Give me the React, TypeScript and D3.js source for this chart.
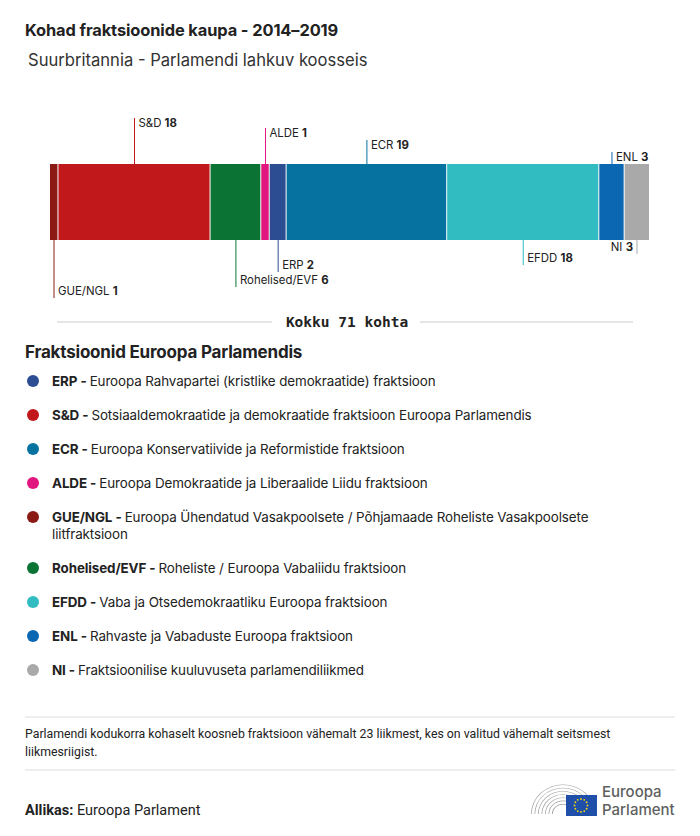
import React from 'react';
import * as d3 from 'd3';

// Seats per group, in bar order
const groups = ['GUE/NGL', 'S&D', 'Rohelised/EVF', 'ALDE', 'ERP', 'ECR', 'EFDD', 'ENL', 'NI'];
const seats = [1, 18, 6, 1, 2, 19, 18, 3, 3];
const groupColors = ['#8b1a15', '#c1191b', '#0b7333', '#e2167f', '#2d4d92', '#0572a0', '#30bcc0', '#0b67b2', '#a9a9a9'];

const legendKeys = ['ERP', 'S&D', 'ECR', 'ALDE', 'GUE/NGL', 'Rohelised/EVF', 'EFDD', 'ENL', 'NI'];
const legendTexts = [
  ['Euroopa Rahvapartei (kristlike demokraatide) fraktsioon'],
  ['Sotsiaaldemokraatide ja demokraatide fraktsioon Euroopa Parlamendis'],
  ['Euroopa Konservatiivide ja Reformistide fraktsioon'],
  ['Euroopa Demokraatide ja Liberaalide Liidu fraktsioon'],
  ['Euroopa Ühendatud Vasakpoolsete / Põhjamaade Roheliste Vasakpoolsete', 'liitfraktsioon'],
  ['Roheliste / Euroopa Vabaliidu fraktsioon'],
  ['Vaba ja Otsedemokraatliku Euroopa fraktsioon'],
  ['Rahvaste ja Vabaduste Euroopa fraktsioon'],
  ['Fraktsioonilise kuuluvuseta parlamendiliikmed'],
];

// label leader: side and length (px) for each group, in bar order
const leaderSide = ['below', 'above', 'below', 'above', 'below', 'above', 'below', 'above', 'below'];
const leaderLen = [58, 46, 47, 36, 32, 24, 25, 12, 14];

const W = 700;
const H = 836;
const barTop = 164;
const barH = 76;
const sans = 'Inter, "Open Sans", sans-serif';
const noteFont = 'Roboto, sans-serif';

export default function App() {
  const total = d3.sum(seats);
  const x = d3.scaleLinear().domain([0, total]).range([50, 650]);
  const starts = d3.cumsum([0, ...seats]).slice(0, seats.length);

  const legendY = d3.scaleLinear().domain([0, 1]).range([381, 415]);
  // extra offset after the wrapped item
  const legendRow = (i: number) => legendY(i) + (i > 4 ? 17 : 0);

  const stars = d3.range(12).map(i => {
    const a = (i / 12) * Math.PI * 2;
    return [581 + Math.cos(a) * 6.5, 805.5 + Math.sin(a) * 6.5];
  });

  return (
    <svg width={W} height={H} style={{ position: 'absolute', left: 0, top: 0, background: '#fff' }}>
      <text x={25} y={36} fontFamily={sans} fontWeight={700} fontSize={16.4} fill="#222" letterSpacing={-0.1}>
        Kohad fraktsioonide kaupa - 2014–2019
      </text>
      <text x={28} y={66} fontFamily={sans} fontSize={16.6} fill="#333">
        Suurbritannia - Parlamendi lahkuv koosseis
      </text>

      {seats.map((s, i) => {
        const x0 = x(starts[i]);
        const x1 = x(starts[i] + s);
        const cx = i === 0 ? x0 + 4 : i === seats.length - 1 ? x1 - 13 : (x0 + x1) / 2;
        const above = leaderSide[i] === 'above';
        const yEnd = above ? barTop - leaderLen[i] : barTop + barH + leaderLen[i];
        const isNI = groups[i] === 'NI';
        const ly = above ? yEnd + 9 : yEnd - 3;
        return (
          <g key={groups[i]}>
            <rect x={x0} y={barTop} width={Math.max(0, x1 - x0 - 1)} height={barH} fill={groupColors[i]} />
            <line x1={cx} x2={cx} y1={above ? barTop : barTop + barH} y2={yEnd} stroke={groupColors[i]} strokeWidth={1} />
            <text
              x={isNI ? cx - 4 : cx + 4}
              y={isNI ? barTop + barH + 11 : ly}
              textAnchor={isNI ? 'end' : 'start'}
              fontFamily={sans}
              fontSize={11.4}
              fill="#222"
            >
              {groups[i]} <tspan fontWeight={700}>{s}</tspan>
            </text>
          </g>
        );
      })}

      <line x1={57} x2={272} y1={322} y2={322} stroke="#ccc" />
      <line x1={420} x2={633} y1={322} y2={322} stroke="#ccc" />
      <text x={347} y={327} textAnchor="middle" fontFamily='"DejaVu Sans Mono", monospace' fontWeight={700} fontSize={14.5} fill="#222">
        Kokku {total} kohta
      </text>

      <text x={25} y={358} fontFamily={sans} fontWeight={700} fontSize={17} fill="#222" letterSpacing={-0.2}>
        Fraktsioonid Euroopa Parlamendis
      </text>

      {legendKeys.map((k, i) => {
        const y = legendRow(i);
        const color = groupColors[groups.indexOf(k)];
        return (
          <g key={k}>
            <circle cx={33} cy={y} r={6} fill={color} />
            <text x={52} y={y + 4.5} fontFamily={sans} fontSize={13.4} fill="#222" letterSpacing={-0.1}>
              <tspan fontWeight={700}>{k} - </tspan>
              {legendTexts[i][0]}
            </text>
            {legendTexts[i].slice(1).map((t, j) => (
              <text key={j} x={52} y={y + 4.5 + 17 * (j + 1)} fontFamily={sans} fontSize={13.4} fill="#222" letterSpacing={-0.1}>
                {t}
              </text>
            ))}
          </g>
        );
      })}

      <line x1={25} x2={675} y1={717} y2={717} stroke="#ddd" />
      <text x={25} y={738} fontFamily={noteFont} fontSize={12.3} fill="#222">
        Parlamendi kodukorra kohaselt koosneb fraktsioon vähemalt 23 liikmest, kes on valitud vähemalt seitsmest
      </text>
      <text x={25} y={756} fontFamily={noteFont} fontSize={12.3} fill="#222">
        liikmesriigist.
      </text>
      <line x1={25} x2={675} y1={770} y2={770} stroke="#ddd" />

      <text x={25} y={815} fontFamily={noteFont} fontSize={14.5} fill="#222">
        <tspan fontWeight={700}>Allikas:</tspan> Euroopa Parlament
      </text>

      {/* logo */}
      <g>
        {d3.range(7).map(i => (
          <path
            key={i}
            d={d3.arc()({ innerRadius: 10 + i * 3.4, outerRadius: 10.7 + i * 3.4, startAngle: -Math.PI / 2, endAngle: Math.PI / 2 }) || ''}
            transform="translate(563,814) scale(1.03,0.95)"
            fill="#a0a0a0"
          />
        ))}
        <rect x={566} y={795} width={31} height={21} fill="#1f4fa8" />
        {stars.map((p, i) => (
          <circle key={i} cx={p[0]} cy={p[1]} r={0.9} fill="#f5d80b" />
        ))}
        <text x={602} y={797} fontFamily={sans} fontWeight={500} fontSize={15} fill="#5f5f5f">Euroopa</text>
        <text x={602} y={815} fontFamily={sans} fontWeight={500} fontSize={15} fill="#5f5f5f">Parlament</text>
      </g>
    </svg>
  );
}
